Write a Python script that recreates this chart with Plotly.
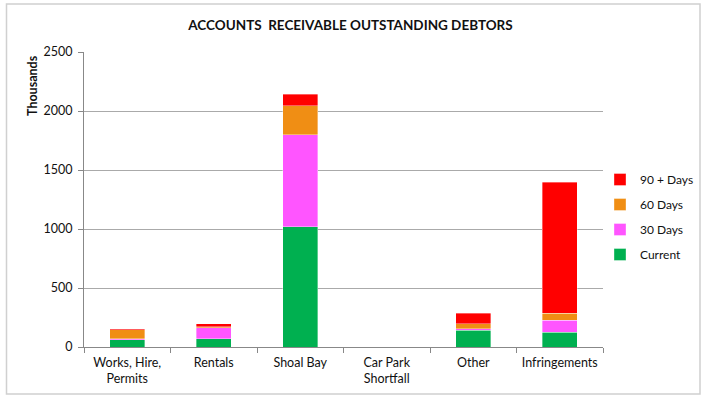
import plotly.graph_objects as go

categories = ["Works, Hire,<br>Permits", "Rentals", "Shoal Bay", "Car Park<br>Shortfall", "Other", "Infringements"]
current = [60, 70, 1020, 0, 140, 125]
days30 = [10, 95, 780, 0, 16, 100]
days60 = [75, 5, 245, 0, 39, 60]
days90 = [8, 25, 95, 0, 93, 1110]

series = [("Current", current, "#00B050"), ("30 Days", days30, "#FF55FF"),
          ("60 Days", days60, "#F08E14"), ("90 + Days", days90, "#FF0000")]

font = "Lato, Open Sans, sans-serif"
fig = go.Figure()
for i, (name, vals, col) in enumerate(series):
    fig.add_trace(go.Bar(x=categories, y=vals, name=name, legendgroup=name, legendrank=1000 - i,
                         marker=dict(color=col, line=dict(width=0.6, color="rgba(255,255,255,0.6)"))))

L, R, T, B = 84, 603, 52, 347
W, H = 701, 396
pw, ph = R - L, B - T
def px(x): return (x - L) / pw
def py(y): return (B - y) / ph

fig.update_layout(
    width=W, height=H, barmode="stack", bargap=0.6,
    margin=dict(l=L, r=W - R, t=T, b=H - B, autoexpand=False),
    paper_bgcolor="white", plot_bgcolor="white",
    font=dict(family=font, size=12, color="#222"),
    title=dict(text="<b>ACCOUNTS  RECEIVABLE OUTSTANDING DEBTORS</b>", x=0.5, xanchor="center",
               y=1 - 25 / H, yanchor="middle", font=dict(size=13.5, color="#111")),
    legend=dict(traceorder="grouped", xref="container", yref="container",
                x=600 / W, y=1 - 165 / H, xanchor="left", yanchor="top",
                font=dict(size=12, color="#111"), itemwidth=30, tracegroupgap=6,
                bgcolor="rgba(0,0,0,0)"),
    showlegend=True,
)
fig.update_xaxes(showline=True, linecolor="#888", linewidth=1, ticks="outside", ticklen=5,
                 tickcolor="#888", tickson="boundaries", ticklabelstandoff=4,
                 tickfont=dict(size=12.5, color="#111"))
fig.update_yaxes(range=[0, 2500], dtick=500, showgrid=True, gridcolor="#AAAAAA", gridwidth=1,
                 showline=True, linecolor="#888", linewidth=1, ticks="outside", ticklen=5,
                 tickcolor="#888", ticklabelstandoff=3, tickfont=dict(size=12.5, color="#111"),
                 zeroline=False)
fig.add_annotation(text="<b>Thousands</b>", xref="paper", yref="paper", x=px(33), y=py(86),
                   xanchor="center", yanchor="middle",
                   textangle=-90, showarrow=False, font=dict(size=12.5, color="#111"))
fig.add_shape(type="rect", xref="paper", yref="paper", x0=px(6.5), x1=px(700), y0=py(394), y1=py(4),
              line=dict(color="#D0D0D0", width=1.5), fillcolor="rgba(0,0,0,0)", layer="below")
fig.write_html("out.html")
